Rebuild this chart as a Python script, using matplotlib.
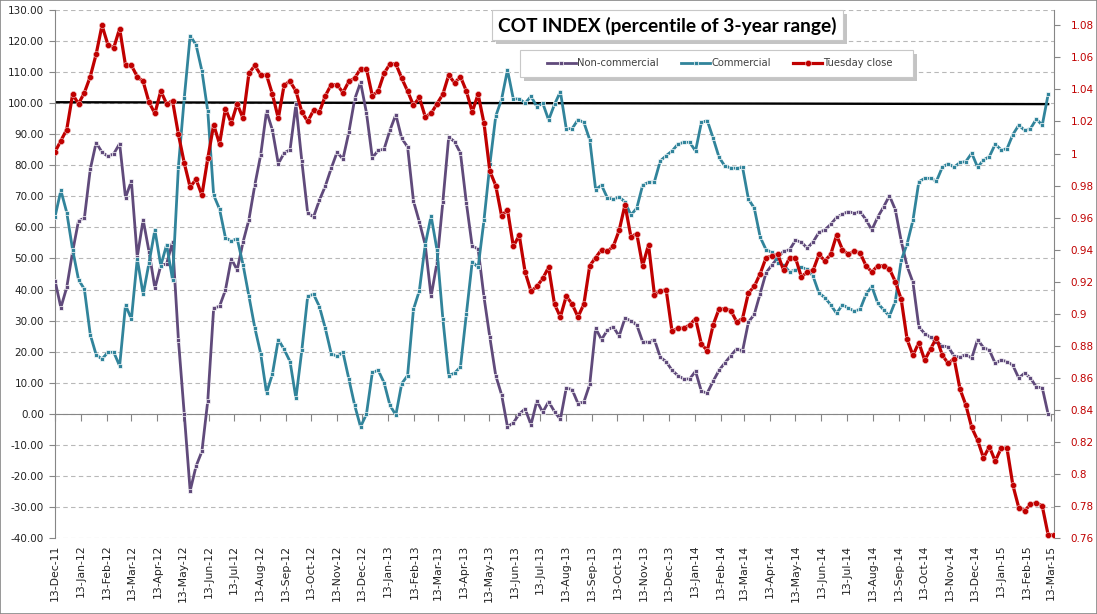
import numpy as np
import pandas as pd
import matplotlib
matplotlib.use("Agg")
import matplotlib.pyplot as plt
from matplotlib.patches import Rectangle
from matplotlib.lines import Line2D
from matplotlib.transforms import blended_transform_factory

# ---- data (weekly) ----
START = "2011-12-13"
noncomm = [42.9, 34.2, 40.7, 52.2, 62.1, 63.0, 78.7, 87.3, 84.2, 82.9,
           83.7, 87.0, 69.6, 74.9, 50.5, 62.5, 52.2, 40.4, 47.7, 48.3,
           55.3, 23.9, -0.2, -24.8, -16.9, -12.1, 4.2, 34.0, 34.6,
           39.8, 49.9, 46.3, 55.3, 62.5, 73.6, 83.3, 97.4, 91.3, 80.5,
           84.0, 85.0, 99.6, 81.4, 64.6, 63.4, 68.8, 73.3, 79.0, 84.2,
           82.0, 90.6, 101.3, 106.7, 96.9, 82.4, 84.8, 85.2,
           91.3, 96.3, 88.7, 85.9, 68.5, 61.8, 54.4, 37.8, 48.6, 68.2,
           89.1, 87.6, 83.9, 67.9, 53.9, 53.1, 37.6, 24.6, 12.3, 6.1,
           -4.2, -2.9, -0.1, 1.6, -3.5, 4.1, 0.5, 3.9,
           0.7, -1.8, 8.3, 7.8, 3.3, 3.8, 9.5, 27.5, 23.9, 26.9,
           28.0, 25.0, 30.8, 29.9, 28.6, 23.2, 23.0, 23.9, 18.2, 16.8,
           14.0, 12.3, 11.2, 11.2, 13.7, 7.2, 6.7, 10.5,
           14.0, 16.4, 18.7, 20.9, 20.2, 29.5, 32.0, 38.7, 45.4, 47.9,
           50.2, 52.4, 52.8, 55.8, 55.3, 53.3, 55.3, 58.4, 59.2, 61.0,
           63.2, 64.3, 65.1, 64.6, 65.1, 62.5, 59.2, 63.3,
           66.6, 70.2, 65.7, 55.6, 47.5, 42.3, 28.0, 25.8, 24.6, 23.2,
           21.8, 21.6, 18.5, 18.3, 19.0, 17.9, 23.9, 21.3, 20.5, 16.2,
           17.3, 16.8, 15.6, 11.5, 13.1, 11.5, 8.6, 8.4, -0.1]
comm = [63.4, 71.9, 64.8, 52.8, 43.2, 40.1, 25.5, 19.0, 17.6, 19.8,
        19.8, 15.4, 35.0, 30.5, 49.9, 38.4, 48.6, 59.2, 47.7, 54.4,
        43.2, 79.5, 101.7, 121.7, 118.8, 110.4, 97.4, 70.4, 65.9,
        56.7, 55.6, 56.4, 48.0, 37.8, 27.7, 19.4, 6.7, 12.8, 23.9,
        20.7, 16.8, 5.0, 20.4, 37.8, 38.5, 34.5, 27.5, 19.4, 18.5,
        19.8, 11.2, 2.7, -4.2, -0.1, 13.3, 14.0, 10.0,
        2.7, -0.4, 9.7, 12.3, 33.6, 39.6, 54.4, 63.7, 52.8, 30.6,
        12.3, 13.1, 15.1, 32.0, 49.0, 47.1, 62.3, 80.3, 95.8, 101.3,
        110.7, 101.3, 101.4, 100.0, 102.2, 98.9, 100.0, 94.6,
        99.6, 103.7, 91.8, 91.8, 94.7, 93.8, 88.2, 72.2, 73.6, 69.5,
        69.1, 69.8, 68.2, 64.0, 66.2, 73.6, 74.5, 74.7, 81.4, 83.1,
        84.6, 86.8, 87.4, 87.4, 84.6, 93.8, 94.4, 88.7,
        82.6, 79.7, 79.2, 79.0, 79.4, 69.1, 66.2, 56.9, 52.8, 52.0,
        48.6, 47.9, 45.7, 46.3, 47.1, 46.6, 44.3, 38.9, 37.4, 35.1,
        32.3, 35.1, 34.0, 33.1, 33.6, 38.4, 41.0, 35.6,
        33.5, 31.4, 36.2, 49.4, 54.7, 62.3, 74.7, 75.8, 75.8, 74.9,
        79.4, 80.5, 79.4, 80.9, 81.2, 83.9, 79.4, 81.7, 82.8, 86.8,
        85.0, 85.3, 89.9, 92.9, 91.3, 91.8, 94.9, 92.9, 102.8]
close = [1.001, 1.008, 1.015, 1.037, 1.031, 1.038, 1.048, 1.062, 1.080, 1.068,
         1.066, 1.078, 1.055, 1.055, 1.048, 1.045, 1.032, 1.025, 1.039, 1.031,
         1.033, 1.012, 0.994, 0.979, 0.984, 0.974, 0.997, 1.018, 1.006,
         1.028, 1.019, 1.031, 1.022, 1.050, 1.055, 1.049, 1.049, 1.037, 1.022,
         1.043, 1.045, 1.039, 1.026, 1.020, 1.027, 1.026, 1.036, 1.043, 1.043,
         1.038, 1.045, 1.047, 1.053, 1.053, 1.036, 1.039, 1.050,
         1.056, 1.056, 1.047, 1.039, 1.030, 1.035, 1.023, 1.025, 1.031, 1.037,
         1.049, 1.044, 1.048, 1.039, 1.026, 1.037, 1.019, 0.989, 0.980, 0.961,
         0.965, 0.942, 0.949, 0.926, 0.914, 0.917, 0.922, 0.929,
         0.906, 0.898, 0.911, 0.906, 0.898, 0.906, 0.930, 0.935, 0.940, 0.939,
         0.942, 0.952, 0.968, 0.948, 0.950, 0.930, 0.943, 0.912, 0.914, 0.915,
         0.889, 0.891, 0.891, 0.893, 0.897, 0.881, 0.877, 0.893,
         0.903, 0.903, 0.902, 0.895, 0.897, 0.913, 0.917, 0.925, 0.935, 0.936,
         0.937, 0.927, 0.935, 0.935, 0.923, 0.926, 0.927, 0.937, 0.933, 0.937,
         0.949, 0.940, 0.937, 0.939, 0.938, 0.930, 0.926, 0.930,
         0.930, 0.928, 0.920, 0.909, 0.884, 0.874, 0.882, 0.871, 0.878, 0.885,
         0.874, 0.869, 0.872, 0.853, 0.843, 0.829, 0.821, 0.810, 0.817, 0.808,
         0.816, 0.816, 0.793, 0.779, 0.777, 0.781, 0.782, 0.780, 0.762, 0.762]
ref_line = [100.3, 99.7]   # black reference line, start / end
labels = ["Non-commercial", "Commercial", "Tuesday close"]
title = "COT INDEX (percentile of 3-year range)"

d_pos = pd.date_range(START, periods=len(noncomm), freq="7D")
d_close = pd.date_range(START, periods=len(close), freq="7D")
tick_dates = pd.date_range("2011-12-01", d_close[-1], freq="MS") + pd.Timedelta(days=12)

PURPLE, TEAL, RED = "#604a7b", "#31849b", "#c00000"
GREY = "#868686"

W, H = 1097, 614
fig = plt.figure(figsize=(W / 100, H / 100), dpi=100)
L, R, T, B = 55, 1054, 10, 538
ax = fig.add_axes([L / W, 1 - B / H, (R - L) / W, (B - T) / H])

ax.plot(d_pos, noncomm, color=PURPLE, lw=2.0, marker="s", ms=2.6, mfc=PURPLE,
        mec="white", mew=0.5, zorder=3)
ax.plot(d_pos, comm, color=TEAL, lw=2.0, marker="s", ms=2.6, mfc=TEAL,
        mec="white", mew=0.5, zorder=3)
ax.plot([d_pos[0], d_pos[-1]], ref_line, color="black", lw=1.7, zorder=2.5)

ax.set_ylim(-40, 130)
ax.set_yticks(np.arange(-40, 131, 10))
ax.yaxis.set_major_formatter(matplotlib.ticker.FormatStrFormatter("%.2f"))
ax.yaxis.grid(True, ls=(0, (4, 3)), color="#b8b8b8", lw=0.8)
ax.set_axisbelow(True)
ax.set_xlim(pd.Timestamp(START), d_close[-1])

ax.spines["bottom"].set_position(("data", 0))
ax.spines["bottom"].set_color(GREY)
ax.spines["left"].set_color(GREY)
ax.spines["top"].set_visible(False)
ax.spines["right"].set_visible(False)
ax.set_xticks(tick_dates)
ax.tick_params(axis="x", direction="out", length=5, color=GREY, labelbottom=False)
ax.tick_params(axis="y", direction="out", length=4, color=GREY, labelsize=7.5,
               pad=4, labelcolor="#222222")

# date labels sit below the plot area, ticks sit on the zero line
tr = blended_transform_factory(ax.transData, ax.transAxes)
for t in tick_dates:
    ax.text(t, -0.013, t.strftime("%d-%b-%y"), transform=tr,
            rotation=90, ha="center", va="top", fontsize=7.8, color="#222222")

ax2 = ax.twinx()
ax2.plot(d_close, close, color=RED, lw=2.3, marker="o", ms=4.4, mfc=RED,
         mec="#f2c4c4", mew=0.4, zorder=4)
ax2.set_ylim(0.76, 1.0896)
ax2.set_yticks(np.round(np.arange(0.76, 1.081, 0.02), 2))
ax2.yaxis.set_major_formatter(matplotlib.ticker.FuncFormatter(
    lambda v, p: f"{v:.2f}".rstrip("0").rstrip(".")))
for s in ("top", "bottom", "left"):
    ax2.spines[s].set_visible(False)
ax2.spines["right"].set_color(GREY)
ax2.tick_params(axis="y", direction="out", length=4, color=GREY, labelsize=7.5,
                pad=8, labelcolor=RED)


def px(x, y):
    return x / W, 1 - y / H


def boxed(x0, y0, x1, y1, z):
    # white box with a soft offset shadow, in pixel coords of the figure
    fig.patches.append(Rectangle(px(x0 + 4, y1 + 4), (x1 - x0) / W, (y1 - y0) / H,
                                 transform=fig.transFigure, fc="#c4c4c4", ec="none", zorder=z))
    fig.patches.append(Rectangle(px(x0, y1), (x1 - x0) / W, (y1 - y0) / H,
                                 transform=fig.transFigure, fc="white", ec="#c8c8c8",
                                 lw=0.8, zorder=z + 0.1))


# legend: own frame, frameless legend inside it
boxed(520, 50, 913, 77, 5)
handles = [Line2D([], [], color=PURPLE, lw=2.0, marker="s", ms=2.6, mec="white", mew=0.5),
           Line2D([], [], color=TEAL, lw=2.0, marker="s", ms=2.6, mec="white", mew=0.5),
           Line2D([], [], color=RED, lw=2.3, marker="o", ms=4.4, mec="#f2c4c4", mew=0.4)]
leg = fig.legend(handles, labels, loc="center", bbox_to_anchor=px(720, 63.5), ncol=3,
                 fontsize=7.2, frameon=False, handlelength=2.9, handletextpad=0.15,
                 columnspacing=2.2, borderpad=0.2)
leg.set_zorder(6)
for txt in leg.get_texts():
    txt.set_color("#404040")

# title box
boxed(492, 10, 843, 40, 7)
fig.text(*px(667.5, 26), title, ha="center", va="center",
         fontsize=13.8, fontweight="bold", family=["Lato", "DejaVu Sans"], zorder=8)

# chart border
fig.patches.append(Rectangle((0, 0), 1, 1, transform=fig.transFigure, fill=False,
                             ec=GREY, lw=1.2, zorder=10))

fig.savefig("out.png", dpi=100)
